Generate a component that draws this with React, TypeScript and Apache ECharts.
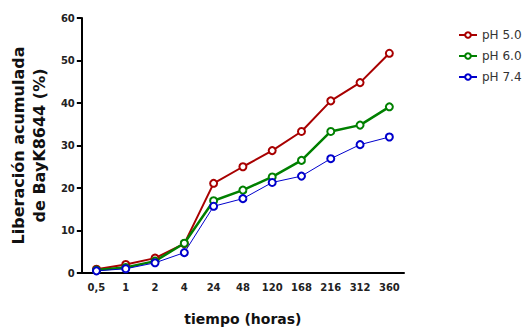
import React, { useEffect, useRef } from "react";
import * as echarts from "echarts";

const categories = ["0,5", "1", "2", "4", "24", "48", "120", "168", "216", "312", "360"];
const ph50 = [0.9, 2.0, 3.5, 6.9, 21.1, 25.0, 28.8, 33.3, 40.5, 44.8, 51.7];
const ph60 = [0.7, 1.3, 2.8, 7.0, 17.0, 19.5, 22.6, 26.5, 33.3, 34.8, 39.1];
const ph74 = [0.5, 1.0, 2.4, 4.8, 15.7, 17.5, 21.3, 22.8, 26.9, 30.2, 32.0];
const seriesNames = ["pH 5.0", "pH 6.0", "pH 7.4"];

export default function App() {
  const ref = useRef<HTMLDivElement>(null);
  useEffect(() => {
    if (!ref.current) return;
    const chart = echarts.init(ref.current, undefined, { renderer: "svg" });
    const font = "DejaVu Sans, Liberation Sans, Arial, sans-serif";
    const mk = (name: string, data: number[], color: string, width: number) => ({
      name,
      type: "line",
      data,
      symbol: "circle",
      symbolSize: 7,
      showSymbol: true,
      itemStyle: { color: "#fff", borderColor: color, borderWidth: 2 },
      lineStyle: { color, width },
      emphasis: { disabled: true },
    });
    chart.setOption({
      animation: false,
      backgroundColor: "#fff",
      textStyle: { fontFamily: font },
      legend: {
        orient: "vertical",
        left: 453,
        top: 24,
        itemWidth: 18,
        itemHeight: 7,
        itemGap: 9,
        data: seriesNames,
        textStyle: { fontSize: 12, color: "#333", fontFamily: font },
      },
      grid: { left: 80, right: 125, top: 18, bottom: 54, containLabel: false },
      xAxis: {
        type: "category",
        data: categories,
        boundaryGap: true,
        name: "tiempo (horas)",
        nameLocation: "middle",
        nameGap: 39,
        nameTextStyle: { fontSize: 14, fontWeight: "bold", color: "#111", fontFamily: font },
        axisLine: { lineStyle: { color: "#000", width: 2 } },
        axisTick: { alignWithLabel: true, length: 5, lineStyle: { color: "#000", width: 1.5 } },
        axisLabel: { fontSize: 10, fontWeight: "bold", color: "#222", margin: 9, fontFamily: font },
        splitLine: { show: false },
      },
      yAxis: {
        type: "value",
        min: 0,
        max: 60,
        interval: 10,
        name: "Liberación acumulada\nde BayK8644 (%)",
        nameLocation: "middle",
        nameRotate: 90,
        nameGap: 28,
        nameTextStyle: { fontSize: 16, fontWeight: "bold", color: "#111", lineHeight: 21, fontFamily: font },
        axisLine: { show: true, lineStyle: { color: "#000", width: 2 } },
        axisTick: { show: true, length: 5, lineStyle: { color: "#000", width: 2 } },
        axisLabel: { fontSize: 10, fontWeight: "bold", color: "#222", margin: 7, fontFamily: font },
        splitLine: { show: false },
      },
      series: [
        mk(seriesNames[0], ph50, "#a80000", 2),
        mk(seriesNames[1], ph60, "#008000", 2.5),
        mk(seriesNames[2], ph74, "#0000cc", 1),
      ],
    });
    return () => chart.dispose();
  }, []);
  return <div ref={ref} style={{ width: 529, height: 331, position: "absolute", left: 0, top: 0 }} />;
}
